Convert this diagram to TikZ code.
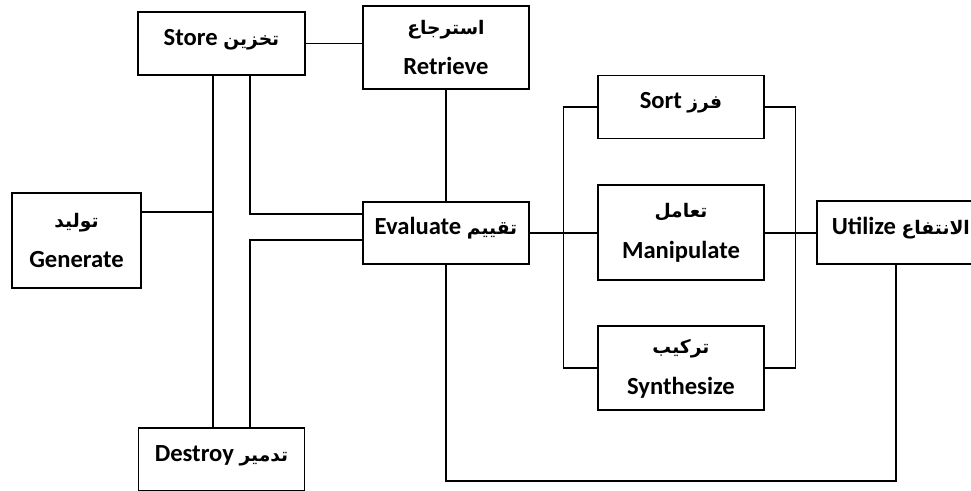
\documentclass[tikz,border=0pt]{standalone}
\usepackage{fontspec}
\setmainfont{Carlito}
\newfontfamily\arabicfont[Script=Arabic,Scale=0.76]{DejaVu Sans}
\TeXXeTstate=1
\usetikzlibrary{positioning,calc}
\newcommand{\artxt}[1]{{\arabicfont\bfseries\beginR #1\endR}}

\begin{document}
\begin{tikzpicture}[
box/.style={draw,line width=1.1pt,minimum width=3.32cm,minimum height=1.26cm,
inner sep=2pt,align=center,font=\bfseries\fontsize{14}{23.3}\selectfont},
single/.style={text height=10pt,text depth=8pt},
link/.style={line width=1.1pt}
]
\useasboundingbox (0,0) rectangle (19.42,-9.8);
\node[box,single,minimum width=3.34cm] (store) at (4.43,-0.87) {Store \artxt{تخزين}};
\node[box,minimum height=1.66cm] (retrieve) at (8.92,-0.95) {\artxt{استرجاع}\\Retrieve};
\node[box,single,minimum height=1.24cm,below=2.22cm of retrieve] (evaluate) {Evaluate \artxt{تقييم}};
\node[box,minimum width=2.58cm,minimum height=1.9cm] (generate) at (1.53,-4.81) {\artxt{توليد}\\Generate};
\node[box,single,below=7.02cm of store] (destroy) {Destroy \artxt{تدمير}};
\node[box,minimum height=1.9cm,right=1.34cm of evaluate] (manipulate) {\artxt{تعامل}\\Manipulate};
\node[box,single,above=0.9cm of manipulate] (sort) {Sort \artxt{فرز}};
\node[box,minimum height=1.68cm,below=0.88cm of manipulate] (synth) {\artxt{تركيب}\\Synthesize};
\node[box,single,minimum width=3.36cm,right=1.02cm of manipulate] (utilize) {Utilize \artxt{الانتفاع}};

% store / destroy trunk
\coordinate (sL) at ([xshift=-0.17cm]store.south);
\coordinate (sR) at ([xshift=0.57cm]store.south);
\draw[link] (store.east) -- (store.east -| retrieve.west);
\draw[link] (sL) -- (sL |- destroy.north);
\draw[link] ([yshift=0.57cm]generate.east) -- ([yshift=0.57cm]generate.east -| sL);
\draw[link] (sR) |- ([yshift=0.38cm]evaluate.west);
\draw[link] ([yshift=-0.14cm]evaluate.west) -| (sR |- destroy.north);
\draw[link] (retrieve.south) -- (evaluate.north);

% evaluate -> sort / manipulate / synthesize -> utilize
\coordinate (bl) at ($(evaluate.east)!0.5!(manipulate.west)$);
\coordinate (br) at ($(manipulate.east)!0.6!(utilize.west)$);
\draw[link] (evaluate.east) -- (manipulate.west);
\draw[link] (sort.west) -| (bl) |- (synth.west);
\draw[link] (sort.east) -| (br) |- (synth.east);
\draw[link] (manipulate.east) -- (utilize.west);
\draw[link] (evaluate.south) -- ++(0,-4.32) -| ([xshift=-0.1cm]utilize.south);
\end{tikzpicture}
\end{document}
